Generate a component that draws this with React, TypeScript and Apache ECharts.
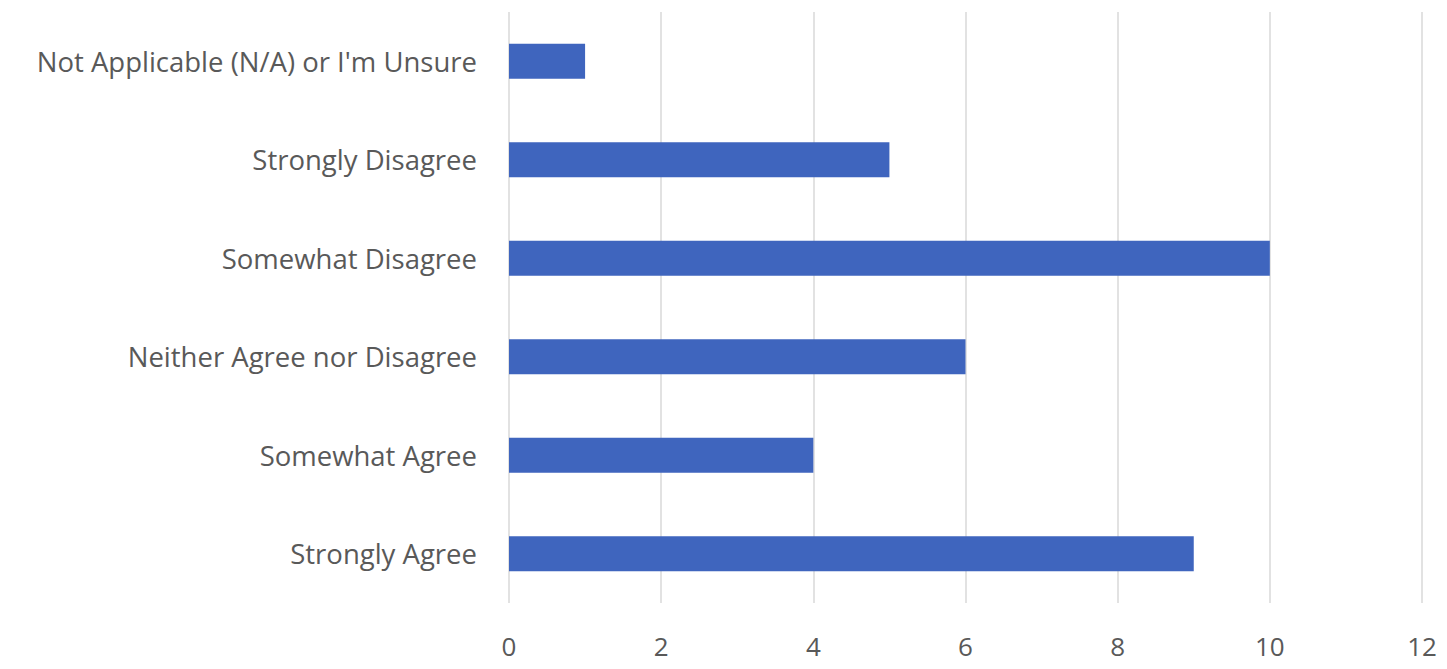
import React, { useEffect, useRef } from "react";
import * as echarts from "echarts";

const categories = [
  "Not Applicable (N/A) or I'm Unsure",
  "Strongly Disagree",
  "Somewhat Disagree",
  "Neither Agree nor Disagree",
  "Somewhat Agree",
  "Strongly Agree",
];
const values = [1, 5, 10, 6, 4, 9];
const xMin = 0;
const xMax = 12;
const xStep = 2;

export default function App() {
  const ref = useRef<HTMLDivElement>(null);
  useEffect(() => {
    if (!ref.current) return;
    const chart = echarts.init(ref.current, undefined, { renderer: "svg" });
    chart.setOption({
      animation: false,
      backgroundColor: "#ffffff",
      grid: { left: 509, right: 25, top: 12, bottom: 66, containLabel: false },
      xAxis: {
        type: "value",
        min: xMin,
        max: xMax,
        interval: xStep,
        axisLine: { show: false },
        axisTick: { show: false },
        splitLine: { show: true, lineStyle: { color: "#d9d9d9", width: 1.5 } },
        axisLabel: {
          color: "#595959",
          fontFamily: "Open Sans",
          fontSize: 26,
          margin: 30,
        },
      },
      yAxis: {
        type: "category",
        data: categories,
        inverse: true,
        axisLine: { show: false },
        axisTick: { show: false },
        splitLine: { show: false },
        axisLabel: {
          color: "#595959",
          fontFamily: "Open Sans",
          fontSize: 27.5,
          margin: 32,
        },
      },
      series: [
        {
          type: "bar",
          data: values,
          barWidth: 35,
          itemStyle: { color: "#3F65BE" },
        },
      ],
    });
    return () => chart.dispose();
  }, []);
  return (
    <div
      ref={ref}
      style={{ position: "fixed", left: 0, top: 0, width: 1447, height: 669 }}
    />
  );
}
